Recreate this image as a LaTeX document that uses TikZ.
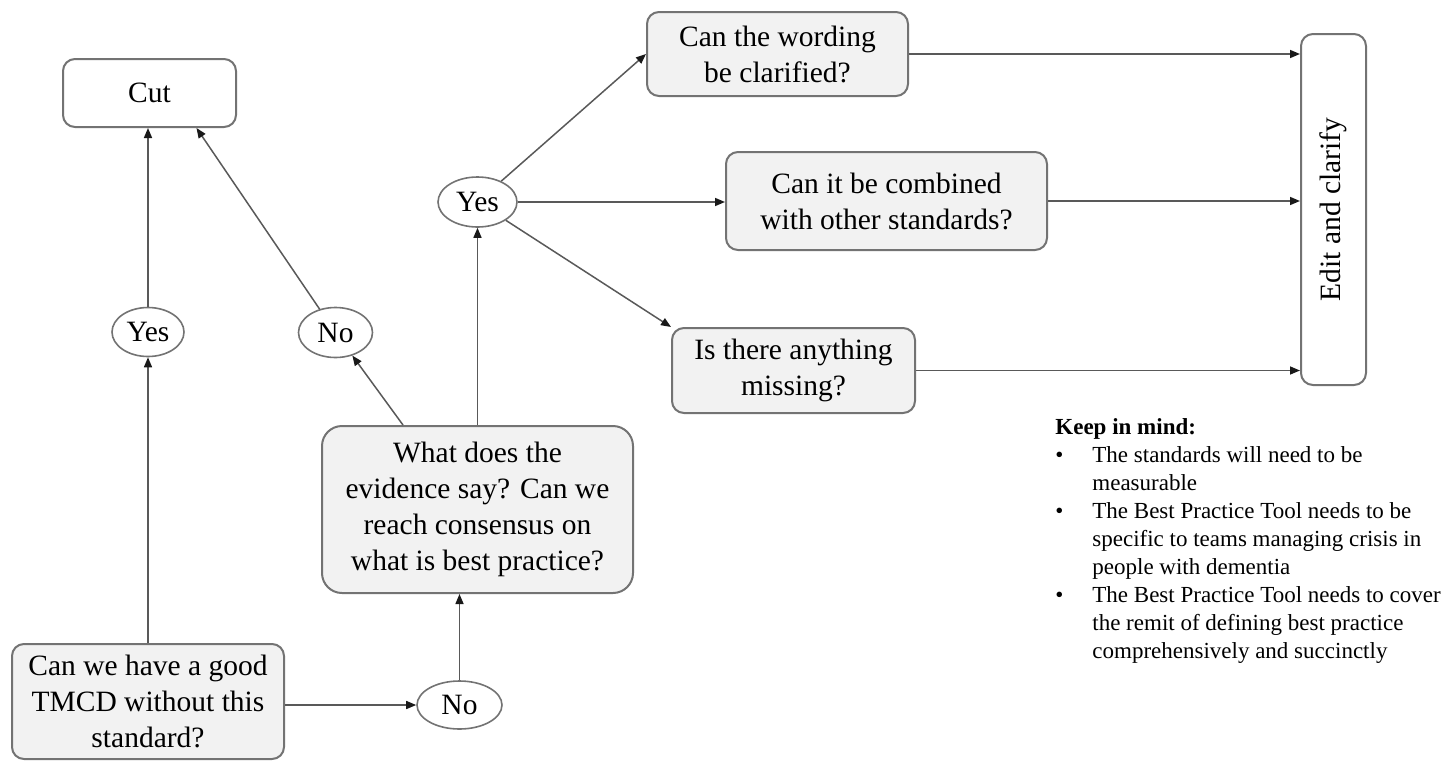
\documentclass[tikz,border=0pt]{standalone}
\usepackage{fontspec}
\setmainfont{Liberation Serif}
\usepackage{graphicx}
\usetikzlibrary{shapes.geometric,arrows.meta}

\newlength{\du}
\setlength{\du}{0.5pt}

\definecolor{boxlinecolor}{rgb}{0.450000, 0.450000, 0.450000}
\definecolor{arrowlinecolor}{rgb}{0.350000, 0.350000, 0.350000}
\definecolor{arrowtipcolor}{rgb}{0.100000, 0.100000, 0.100000}
\definecolor{boxfillcolor}{rgb}{0.949000, 0.949000, 0.949000}

\tikzset{
  qbox/.style={draw=boxlinecolor, fill=boxfillcolor, line width=2\du,
    rounded corners=12\du, align=center, inner sep=0pt,
    font=\fontsize{14.75}{18}\selectfont},
  endbox/.style={qbox, fill=white},
  answer/.style={ellipse, draw=boxlinecolor, fill=white, line width=1.6\du,
    inner sep=0pt, font=\fontsize{14.75}{18}\selectfont},
  flow/.style={draw=arrowlinecolor, line width=0.75pt,
    -{Triangle[length=5pt,width=4pt,color=arrowtipcolor]}},
  keepnote/.style={inner sep=0pt, anchor=north west,
    font=\fontsize{11.5}{14}\selectfont}
}

\begin{document}
\begin{tikzpicture}
\pgftransformxscale{1.000000}
\pgftransformyscale{-1.000000}
\useasboundingbox (0\du,0\du) rectangle (1446\du,761\du);
% question boxes
\node[qbox, minimum width=272\du, minimum height=115\du] (goodtmcd) at (148\du,701.5\du) {Can we have a good\\TMCD without this\\standard?};
\node[qbox, rounded corners=20\du, minimum width=311\du, minimum height=167\du] (evidence) at (477.5\du,509.5\du) {What does the\\evidence say? Can we\\reach consensus on\\what is best practice?};
\node[qbox, minimum width=261\du, minimum height=84\du] (wording) at (777.5\du,54\du) {Can the wording\\be clarified?};
\node[qbox, minimum width=321\du, minimum height=98\du] (combine) at (886.5\du,201\du) {Can it be combined\\with other standards?};
\node[qbox, minimum width=243\du, minimum height=85\du] (missing) at (793.5\du,370.5\du) {Is there anything\\missing?};
% outcome boxes
\node[endbox, minimum width=173\du, minimum height=68\du] (cut) at (149.5\du,93\du) {Cut};
\node[endbox, minimum width=65\du, minimum height=351\du] (edit) at (1333.5\du,209.5\du) {\rotatebox{90}{Edit and clarify}};
% answers
\node[answer, minimum width=72\du, minimum height=49\du] (yescut) at (148\du,332\du) {Yes};
\node[answer, minimum width=74\du, minimum height=50\du] (nocut) at (335.5\du,332.5\du) {No};
\node[answer, minimum width=85\du, minimum height=48\du] (nokeep) at (459.5\du,705\du) {No};
\node[answer, minimum width=79\du, minimum height=50\du] (yesedit) at (477.5\du,202\du) {Yes};
% connectors
\draw[flow] (goodtmcd.north -| yescut.south) -- (yescut.south);
\draw[flow] (yescut.north) -- (yescut.north |- cut.south);
\draw[flow] ([xshift=-37.25pt]evidence.north) -- (nocut);
\draw[flow] (nocut) -- ([xshift=23.5pt]cut.south);
\draw[flow] (evidence.north -| yesedit.south) -- (yesedit.south);
\draw[flow] (nokeep.north) -- (nokeep.north |- evidence.south);
\draw[flow] (goodtmcd.east |- nokeep.west) -- (nokeep.west);
\draw[flow] (yesedit) -- (wording.west);
\draw[flow] (yesedit.east) -- (yesedit.east -| combine.west);
\draw[flow] (yesedit) -- (missing.north west);
\draw[flow] (wording.east) -- (wording.east -| edit.west);
\draw[flow] (combine.east) -- (combine.east -| edit.west);
\draw[flow] (missing.east) -- (missing.east -| edit.west);
% note
\node[keepnote] (mindnote) at (1055\du,414\du) {%
\begin{tabular}{@{}p{18.5pt}@{}l@{}}
\multicolumn{2}{@{}l@{}}{\textbf{Keep in mind:}}\\
\textbullet & The standards will need to be\\
 & measurable\\
\textbullet & The Best Practice Tool needs to be\\
 & specific to teams managing crisis in\\
 & people with dementia\\
\textbullet & The Best Practice Tool needs to cover\\
 & the remit of defining best practice\\
 & comprehensively and succinctly
\end{tabular}};
\end{tikzpicture}
\end{document}
